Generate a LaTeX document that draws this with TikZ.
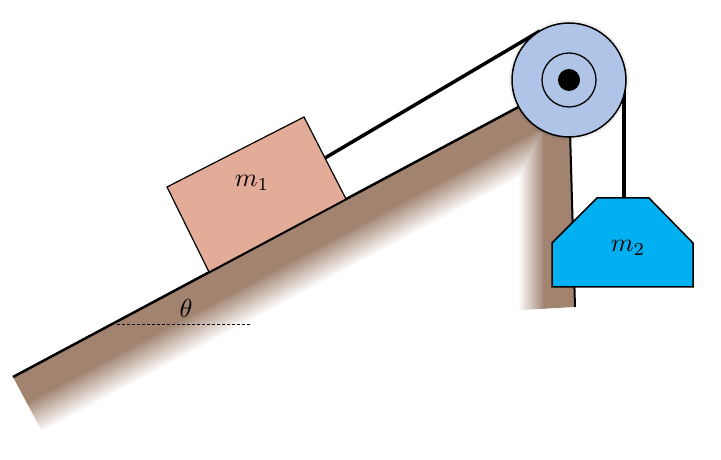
\documentclass[tikz,border=0pt]{standalone}
\usepackage{amsmath,amsfonts}
\usepackage{tikz}
\definecolor{ground}{RGB}{161,131,112}
\definecolor{pulleyblue}{RGB}{175,196,230}
\definecolor{blockone}{RGB}{226,172,152}
\definecolor{blocktwo}{RGB}{0,176,240}

\begin{document}
\begin{tikzpicture}[x=1pt,y=1pt,
  rope/.style={line width=3.5pt},
  masslabel/.style={scale=2.6}]
\useasboundingbox (0,0) rectangle (721,460);
% ground, fading away from the surface
\begin{scope}[blend mode=darken]
\clip (13,83) -- (568,380) -- (575,153) -- (520,150) -- (41,30) -- cycle;
\begin{scope}[transform canvas={shift={(13,83)},rotate=28.1}]
\fill[ground] (0,0) rectangle (660,-30);
\shade[top color=ground, bottom color=white] (0,-28) rectangle (660,-62);
\end{scope}
\fill[ground] (543,148) rectangle (578,382);
\shade[left color=white, right color=ground] (518,148) rectangle (545,382);
\end{scope}
\coordinate (pc) at (569,380);
\draw[line width=2.5pt] (13,83) -- (pc);
\draw[dash pattern=on 3pt off 2pt, line width=0.7pt] (117,136) -- (250,136);
\draw[line width=2pt] (570,330) -- (575,153);
% block on the slope
\draw[fill=blockone, line width=1.2pt] (209,188) -- (346,261) -- (304,343) -- (167,273) -- cycle;
\coordinate (r1) at (325,302);
\coordinate (t1) at (540,429);
\draw[rope] (r1) -- (t1);
\coordinate (t2) at (624,380);
\coordinate (h2) at (624,262);
\draw[rope] (t2) -- (h2);
% hanging block
\draw[fill=blocktwo, line width=1.5pt] (597,262) -- (649,262) -- (693,217) -- (693,173) -- (552,173) -- (552,217) -- cycle;
% pulley
\fill[black, opacity=0.06] (pc) circle (60);
\draw[fill=pulleyblue, line width=1.5pt] (pc) circle (57);
\draw[line width=1.3pt] (pc) circle (27);
\fill (pc) circle (11);
\node[masslabel] (mone) at (252,277) {$m_1$};
\node[masslabel] (mtwo) at (628,212) {$m_2$};
\node[masslabel] (theta) at (186,152) {$\theta$};
\end{tikzpicture}
\end{document}
